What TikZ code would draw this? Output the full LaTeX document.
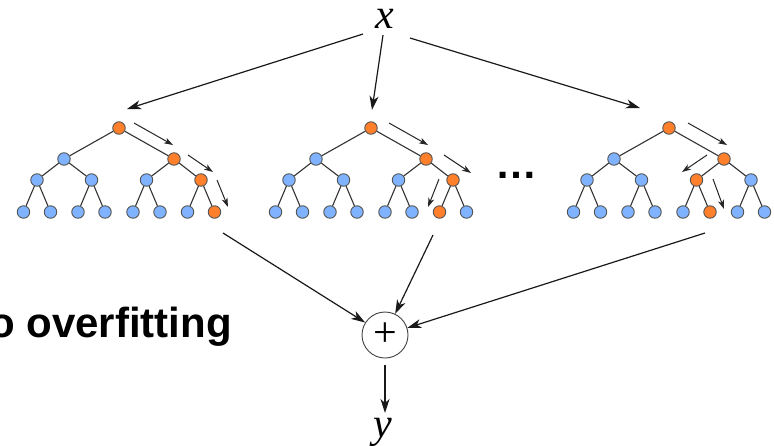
\documentclass[tikz,border=0pt]{standalone}
\usepackage{fontspec}
\setmainfont{Liberation Serif}
\newfontfamily\labsans{Liberation Sans}
\usetikzlibrary{arrows.meta,calc}
\definecolor{nblue}{HTML}{80B3FF}
\definecolor{norange}{HTML}{FF7F2A}
\definecolor{nedge}{HTML}{555555}
\newcommand\mytree[4]{%
  \begin{scope}[shift={(#2,128)}]
    \node[tn,fill=norange] (#1r) at (0,0) {};
    \node[tn,fill=nblue] (#1a1) at (-55,31) {};
    \node[tn,fill=norange] (#1a2) at (55,31) {};
    \foreach \i/\xx in {1/-82,2/-27.5,3/27.5,4/82} {
      \ifnum\i=#3 \def\fc{norange}\else\def\fc{nblue}\fi
      \node[tn,fill=\fc] (#1b\i) at (\xx,52) {};
    }
    \foreach \i/\xx in {1/-95.5,2/-68.5,3/-41,4/-14,5/14,6/41,7/68.5,8/95.5} {
      \ifnum\i=#4 \def\fc{norange}\else\def\fc{nblue}\fi
      \node[tn,fill=\fc] (#1c\i) at (\xx,84) {};
    }
    \draw[edge] (#1r) -- (#1a1);
    \draw[edge] (#1r) -- (#1a2);
    \draw[edge] (#1a1) -- (#1b1);
    \draw[edge] (#1a1) -- (#1b2);
    \draw[edge] (#1a2) -- (#1b3);
    \draw[edge] (#1a2) -- (#1b4);
    \foreach \j in {1,2,3,4} {
      \pgfmathtruncatemacro\ka{2*\j-1}
      \pgfmathtruncatemacro\kb{2*\j}
      \draw[edge] (#1b\j) -- (#1c\ka);
      \draw[edge] (#1b\j) -- (#1c\kb);
    }
  \end{scope}}
\begin{document}
\begin{tikzpicture}[x=1pt,y=-1pt,
  tn/.style={circle,draw=nedge,line width=0.9pt,minimum size=12.5pt,inner sep=0pt},
  edge/.style={draw=black!80,line width=1.1pt},
  flow/.style={-{Stealth[length=9pt,width=6pt,inset=2.5pt]},line width=1pt,draw=black!85},
  main/.style={-{Stealth[length=14pt,width=9pt,inset=4pt]},line width=1.2pt,draw=black!90},
  big/.style={font=\fontsize{42}{42}\selectfont,inner sep=0pt}]
\clip (0,0) rectangle (774,445);

% trees
\mytree{p}{119}{4}{8}
\mytree{q}{371}{4}{7}
\mytree{s}{669}{3}{6}

% path arrows inside trees
\begin{scope}[shift={(119,128)}]
  \coordinate (pa1) at (15,-5);  \coordinate (pa2) at (54,17);
  \coordinate (pb1) at (69,27);  \coordinate (pb2) at (94,44);
  \coordinate (pc1) at (98,52);  \coordinate (pc2) at (109,79);
\end{scope}
\begin{scope}[shift={(371,128)}]
  \coordinate (qa1) at (18,-5);  \coordinate (qa2) at (57,17);
  \coordinate (qb1) at (73,27);  \coordinate (qb2) at (100,45);
  \coordinate (qc1) at (68,51);  \coordinate (qc2) at (57,79);
\end{scope}
\begin{scope}[shift={(669,128)}]
  \coordinate (sa1) at (19,-5);  \coordinate (sa2) at (58,17);
  \coordinate (sb1) at (38,27);  \coordinate (sb2) at (13,44);
  \coordinate (sc1) at (44,51);  \coordinate (sc2) at (55,81);
\end{scope}
\foreach \t in {p,q,s} {
  \draw[flow] (\t a1) -- (\t a2);
  \draw[flow] (\t b1) -- (\t b2);
  \draw[flow] (\t c1) -- (\t c2);
}

% labels
\node[big,font=\fontsize{42}{42}\selectfont\itshape,anchor=base] (x) at (385,28) {x};
\node[big,font=\fontsize{42}{42}\selectfont\itshape,anchor=base] (y) at (383,437) {y};
\node[big,circle,draw=black!75,line width=0.9pt,minimum size=46pt] (sum) at (385,335) {+};
\node[big,font=\labsans\bfseries\fontsize{42}{42}\selectfont,anchor=base east] (ovf) at (232,337) {o overfitting};
\node[big,font=\labsans\bfseries\fontsize{42}{42}\selectfont,anchor=base] (dots) at (516,178) {…};

% main arrows
\coordinate (xs1) at (363,34);  \coordinate (t1in) at (127,109);
\coordinate (xs2) at (383,35);  \coordinate (t2in) at (372,110);
\coordinate (xs3) at (410,38);  \coordinate (t3in) at (640,108);
\coordinate (t1out) at (223,233);
\coordinate (t2out) at (433,235);
\coordinate (t3out) at (705,233);
\coordinate (sumout) at (385,365);
\coordinate (yin) at (385,413);
\draw[main] (xs1) -- (t1in);
\draw[main] (xs2) -- (t2in);
\draw[main] (xs3) -- (t3in);
\draw[main] (t1out) -- (sum);
\draw[main] (t2out) -- (sum);
\draw[main] (t3out) -- (sum);
\draw[main] (sumout) -- (yin);
\end{tikzpicture}
\end{document}
